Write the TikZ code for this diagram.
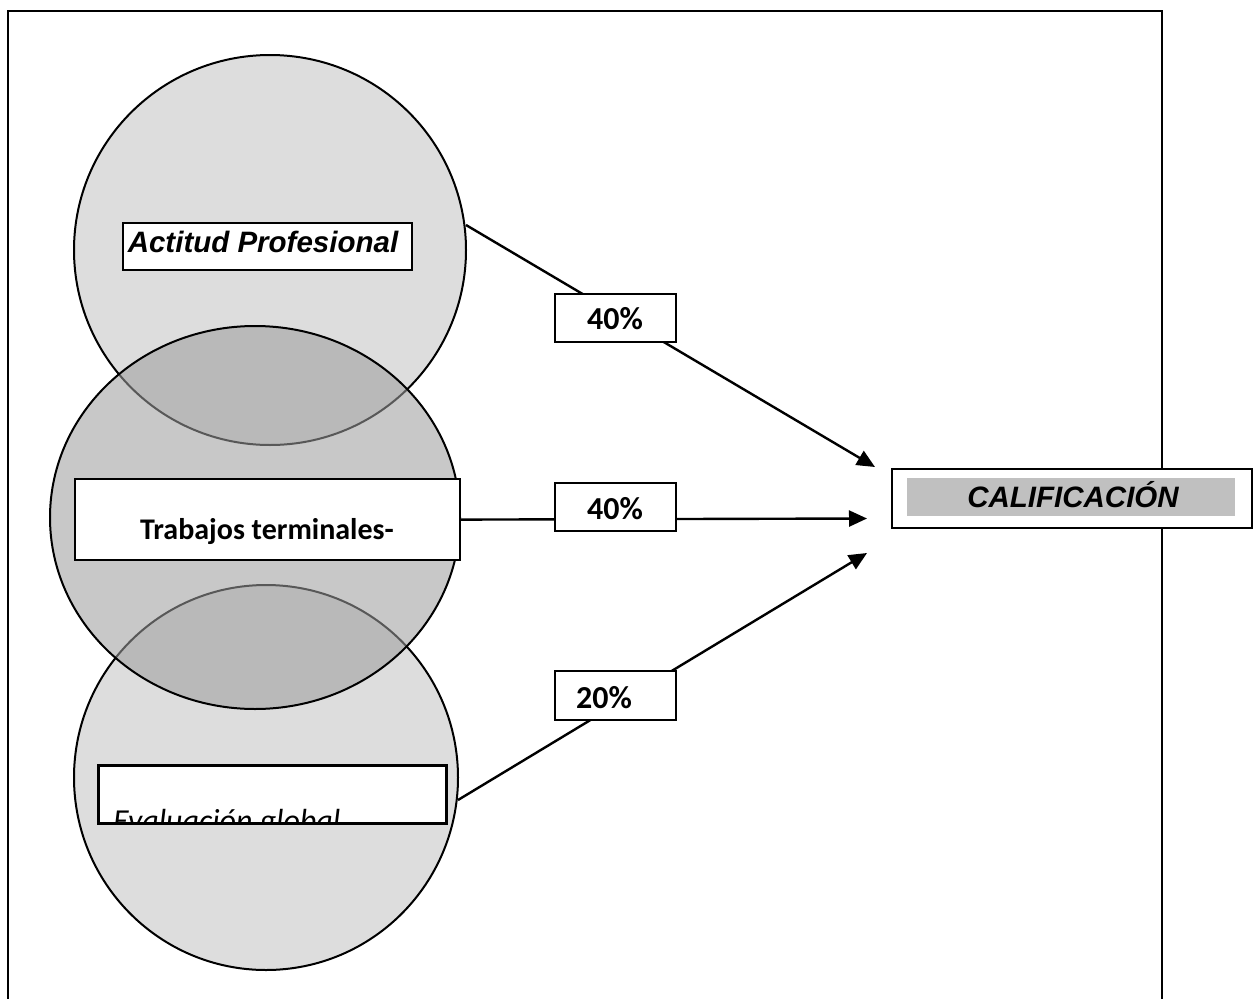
\documentclass[tikz,border=0pt]{standalone}
\usepackage{fontspec}
\setmainfont{Carlito}
\newfontfamily\arialf{Liberation Sans}
\usetikzlibrary{shapes.geometric,arrows.meta}
\definecolor{lightc}{RGB}{221,221,221}
\definecolor{midc}{RGB}{157,157,157}
\definecolor{califg}{RGB}{192,192,192}
\begin{document}
\begin{tikzpicture}[x=1pt,y=-1pt,
  circ/.style={ellipse, draw=black, line width=2pt, inner sep=0pt},
  lbox/.style={draw=black, fill=white, line width=2.2pt, inner sep=0pt, anchor=north west},
  conn/.style={line width=2.4pt, -{Triangle[length=18pt,width=16pt]}},
  pct/.style={anchor=base, inner sep=0pt, font=\bfseries\fontsize{32}{32}\selectfont},
]
\useasboundingbox (0,0) rectangle (1254,999);
% frame
\draw[line width=2.4pt] (8,1002) -- (8,11) -- (1162,11) -- (1162,1002);
% circles
\node[circ, fill=lightc, minimum width=392pt, minimum height=390pt] (topc) at (270,250) {};
\node[circ, fill=lightc, minimum width=384pt, minimum height=385pt] (botc) at (266,777.5) {};
\node[circ, fill=midc, fill opacity=0.56, minimum width=410pt, minimum height=383pt] (midcirc) at (255,517.5) {};
% connector ends
\coordinate (s1) at (466,225);
\coordinate (t1) at (875,467);
\coordinate (t2) at (867,518.5);
\coordinate (s3) at (458,800);
\coordinate (t3) at (867,553);
% boxes
\node[lbox, minimum width=289pt, minimum height=47pt] (actb) at (122,222) {};
\node[lbox, minimum width=385pt, minimum height=81pt] (trab) at (74,478) {};
\node[lbox, minimum width=347pt, minimum height=57pt] (evb) at (98,765) {};
% connectors
\draw[conn] (s1) -- (t1);
\draw[conn] (trab.east) -- (t2);
\draw[conn] (s3) -- (t3);
% percentage boxes
\node[lbox, minimum width=121pt, minimum height=48pt] (p1) at (554,293) {};
\node[lbox, minimum width=121pt, minimum height=48pt] (p2) at (554,482) {};
\node[lbox, minimum width=121pt, minimum height=49pt] (p3) at (554,670) {};
% calificacion
\node[lbox, minimum width=360pt, minimum height=59pt] (calb) at (891,468) {};
\node[anchor=north west, fill=califg, inner sep=0pt, minimum width=328pt, minimum height=38pt] (calg) at (907,478) {};
% texts
\node[anchor=base, inner sep=0pt, font=\arialf\bfseries\itshape\fontsize{29.5}{29.5}\selectfont] (actt) at (263,252) {Actitud Profesional};
\node[anchor=base, inner sep=0pt, font=\bfseries\fontsize{30}{30}\selectfont] (trat) at (267,539) {Trabajos terminales-};
\node[pct] (p1t) at (615,329) {40\%};
\node[pct] (p2t) at (615,519) {40\%};
\node[pct] (p3t) at (604,708) {20\%};
\node[anchor=base, inner sep=0pt, font=\arialf\bfseries\itshape\fontsize{29.5}{29.5}\selectfont] (calt) at (1073,507) {CALIFICACIÓN};
\begin{scope}
\clip (evb.north west) rectangle (evb.south east);
\node[anchor=base west, inner sep=0pt, font=\itshape\fontsize{32}{32}\selectfont] (evt) at (113,831) {Evaluación global};
\end{scope}
\draw[line width=2.2pt] (evb.north west) rectangle (evb.south east);
\end{tikzpicture}
\end{document}
